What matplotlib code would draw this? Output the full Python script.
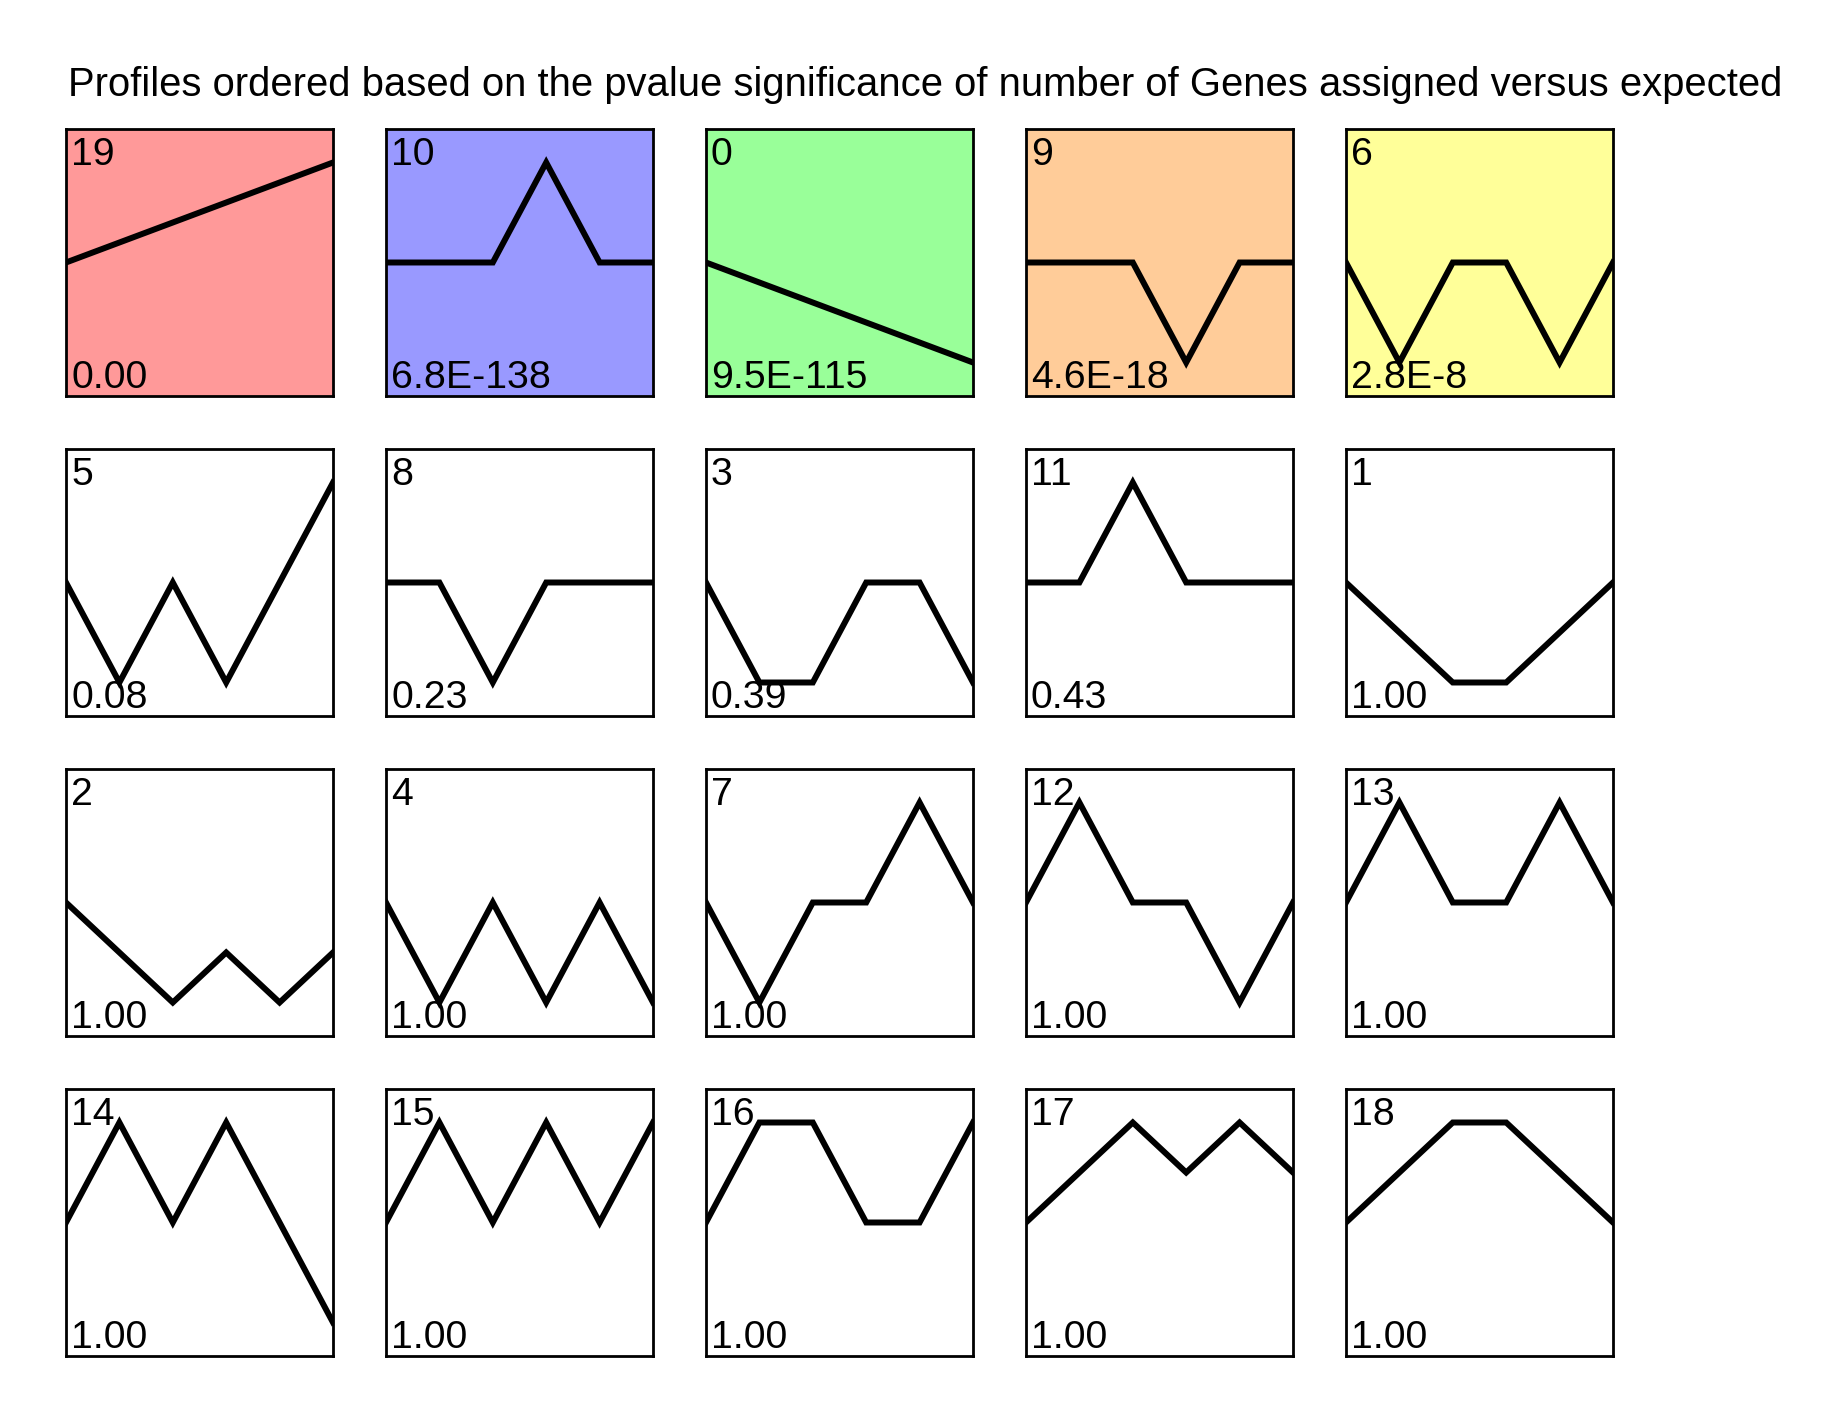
import matplotlib
matplotlib.use("Agg")
import matplotlib.pyplot as plt

plt.rcParams['font.family'] = ['Liberation Sans', 'DejaVu Sans']

title = "Profiles ordered based on the pvalue significance of number of Genes assigned versus expected"

# profile ids in display order (row by row)
profile_ids = [19, 10, 0, 9, 6,
               5, 8, 3, 11, 1,
               2, 4, 7, 12, 13,
               14, 15, 16, 17, 18]

pvalues = ["0.00", "6.8E-138", "9.5E-115", "4.6E-18", "2.8E-8",
           "0.08", "0.23", "0.39", "0.43", "1.00",
           "1.00", "1.00", "1.00", "1.00", "1.00",
           "1.00", "1.00", "1.00", "1.00", "1.00"]

profiles = {
    19: [0, 1, 2, 3, 4, 5],
    10: [0, 0, 0, 1, 0, 0],
    0: [0, -1, -2, -3, -4, -5],
    9: [0, 0, 0, -1, 0, 0],
    6: [0, -1, 0, 0, -1, 0],
    5: [0, -1, 0, -1, 0, 1],
    8: [0, 0, -1, 0, 0, 0],
    3: [0, -1, -1, 0, 0, -1],
    11: [0, 0, 1, 0, 0, 0],
    1: [0, -1, -2, -2, -1, 0],
    2: [0, -1, -2, -1, -2, -1],
    4: [0, -1, 0, -1, 0, -1],
    7: [0, -1, 0, 0, 1, 0],
    12: [0, 1, 0, 0, -1, 0],
    13: [0, 1, 0, 0, 1, 0],
    14: [0, 1, 0, 1, 0, -1],
    15: [0, 1, 0, 1, 0, 1],
    16: [0, 1, 1, 0, 0, 1],
    17: [0, 1, 2, 1, 2, 1],
    18: [0, 1, 2, 2, 1, 0],
}

# significant profiles get a background colour
fill_colors = {19: "#FF9999", 10: "#9999FF", 0: "#99FF99", 9: "#FFCC99", 6: "#FFFF99"}

W, H = 1844, 1423
fig = plt.figure(figsize=(W / 100, H / 100), dpi=100)

x0, y0 = 66, 129       # top-left of first panel, pixels
size, step = 267, 320
ncols = 5
fs = 28.3

for i, pid in enumerate(profile_ids):
    r, c = divmod(i, ncols)
    px, py = x0 + c * step, y0 + r * step
    ax = fig.add_axes([px / W, 1 - (py + size) / H, size / W, size / H])
    vals = profiles[pid]
    m = max(abs(v) for v in vals)
    ys = [v / m for v in vals]
    ax.plot(range(len(ys)), ys, color="black", lw=4.3, solid_joinstyle="miter")
    ax.set_xlim(0, len(ys) - 1)
    ax.set_ylim(-1.335, 1.335)
    ax.set_facecolor(fill_colors.get(pid, "white"))
    ax.set_xticks([])
    ax.set_yticks([])
    for s in ax.spines.values():
        s.set_linewidth(2)
    fig.text((px + 5) / W, 1 - (py + 36) / H, str(pid), ha="left", va="baseline", fontsize=fs)
    fig.text((px + 5) / W, 1 - (py + size - 8) / H, pvalues[i], ha="left", va="baseline", fontsize=fs)

fig.text(68 / W, 1 - 96 / H, title, ha="left", va="baseline", fontsize=28.8)

fig.savefig("out.png", dpi=100)
